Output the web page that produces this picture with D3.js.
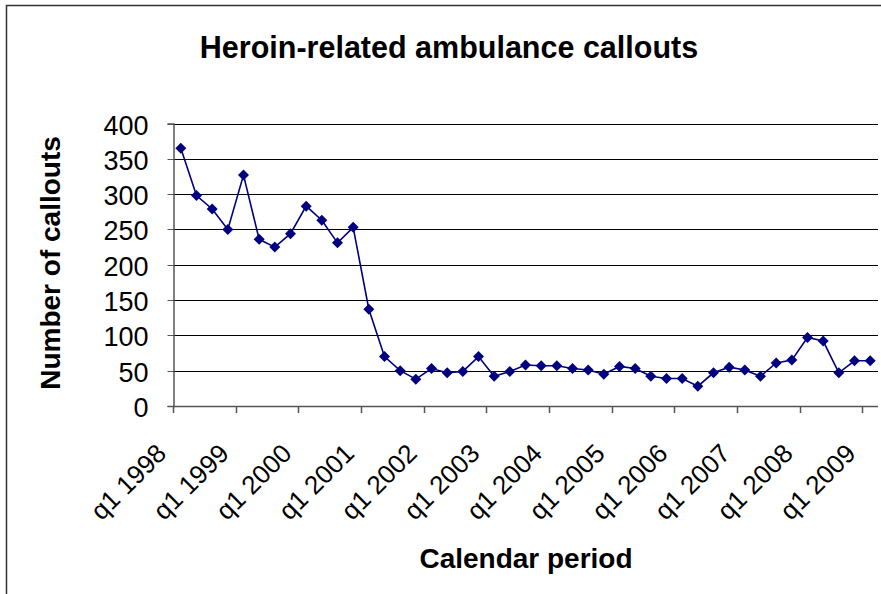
<!DOCTYPE html>
<html>
<head>
<meta charset="utf-8">
<script src="https://cdn.jsdelivr.net/npm/d3@7"></script>
<style>
  html, body { margin: 0; padding: 0; background: #fff; }
  svg { display: block; font-family: Arial, "Liberation Sans", sans-serif; }
</style>
</head>
<body>
<svg id="chart" width="881" height="594"></svg>
<script>
// Quarterly heroin-related ambulance callouts, q1 1998 – q1 2009
const years = ["1998","1999","2000","2001","2002","2003","2004","2005","2006","2007","2008","2009"];
const quarters = ["q1","q2","q3","q4"];
const periods = [];
years.forEach(y => quarters.forEach(q => periods.push(q + " " + y)));
periods.length = 45; // series ends at q1 2009

const callouts = [
  365, 298, 279, 250, 327, 236, 225, 244, 283, 263, 231, 253,
  137, 70, 50, 38, 53, 47, 49, 70, 42, 49, 58, 57,
  57, 53, 51, 45, 56, 53, 42, 39, 39, 28, 47, 55,
  51, 42, 61, 65, 97, 92, 47, 64, 64
];
const yTicks = [0, 50, 100, 150, 200, 250, 300, 350, 400];

const svg = d3.select("#chart");
const W = 881, H = 594;
const plot = { left: 173, right: 878, top: 123.5, bottom: 406 };

// outer chart border
svg.append("rect")
  .attr("x", 6.5).attr("y", 5.5)
  .attr("width", W + 10).attr("height", H + 10)
  .attr("fill", "none").attr("stroke", "#333").attr("stroke-width", 1.5);

const x = d3.scaleBand().domain(periods).range([plot.left, plot.right]).paddingInner(0).paddingOuter(0);
const y = d3.scaleLinear().domain([0, 400]).range([plot.bottom, plot.top]);
const cx = i => x(periods[i]) + x.bandwidth() / 2;

// horizontal gridlines
svg.append("g")
  .selectAll("line")
  .data(yTicks.filter(d => d > 0))
  .join("line")
  .attr("x1", plot.left).attr("x2", plot.right)
  .attr("y1", d => Math.round(y(d)) + 0.5).attr("y2", d => Math.round(y(d)) + 0.5)
  .attr("stroke", "#000").attr("stroke-width", 1);

// y axis
const yAxis = d3.axisLeft(y).tickValues(yTicks).tickSize(6).tickPadding(19);
const gy = svg.append("g")
  .attr("transform", `translate(${plot.left + 0.5},0)`)
  .call(yAxis);
gy.select(".domain").attr("stroke", "#555").attr("stroke-width", 1.5);
gy.selectAll(".tick line").attr("stroke", "#555");
gy.selectAll(".tick text")
  .attr("font-size", 27).attr("fill", "#000").attr("dy", "0.38em");
gy.selectAll(".tick").attr("transform", d => `translate(0,${Math.round(y(d)) + 0.5})`);

// x axis: tick marks on category boundaries every 4 quarters
const boundaries = d3.range(0, periods.length, 4).map(i => x(periods[i]));
const gx = svg.append("g");
gx.append("line")
  .attr("x1", plot.left).attr("x2", plot.right)
  .attr("y1", plot.bottom + 0.5).attr("y2", plot.bottom + 0.5)
  .attr("stroke", "#555").attr("stroke-width", 1.5);
gx.selectAll("line.tick")
  .data(boundaries)
  .join("line")
  .attr("class", "tick")
  .attr("x1", d => Math.round(d) + 0.5).attr("x2", d => Math.round(d) + 0.5)
  .attr("y1", plot.bottom).attr("y2", plot.bottom + 7)
  .attr("stroke", "#555").attr("stroke-width", 1.5);

// rotated category labels
const labelIdx = d3.range(0, periods.length, 4);
gx.selectAll("text")
  .data(labelIdx)
  .join("text")
  .attr("transform", i => `translate(${cx(i) - 13},${plot.bottom + 49}) rotate(-45)`)
  .attr("text-anchor", "end")
  .attr("font-size", 26)
  .attr("fill", "#000")
  .text(i => periods[i]);

// data line
const line = d3.line()
  .x((d, i) => cx(i))
  .y(d => y(d));
svg.append("path")
  .datum(callouts)
  .attr("d", line)
  .attr("fill", "none")
  .attr("stroke", "#000080")
  .attr("stroke-width", 1.6);

// diamond markers
svg.append("g")
  .selectAll("path")
  .data(callouts)
  .join("path")
  .attr("transform", (d, i) => `translate(${cx(i)},${y(d)})`)
  .attr("d", "M0,-5.5L5.5,0L0,5.5L-5.5,0Z")
  .attr("fill", "#000080");

// titles
svg.append("text")
  .attr("x", 449).attr("y", 58)
  .attr("text-anchor", "middle")
  .attr("font-size", 30.5).attr("font-weight", "bold")
  .text("Heroin-related ambulance callouts");

svg.append("text")
  .attr("transform", "translate(60,263) rotate(-90)")
  .attr("text-anchor", "middle")
  .attr("font-size", 28).attr("font-weight", "bold")
  .text("Number of callouts");

svg.append("text")
  .attr("x", 526).attr("y", 568)
  .attr("text-anchor", "middle")
  .attr("font-size", 28).attr("font-weight", "bold")
  .text("Calendar period");
</script>
</body>
</html>
